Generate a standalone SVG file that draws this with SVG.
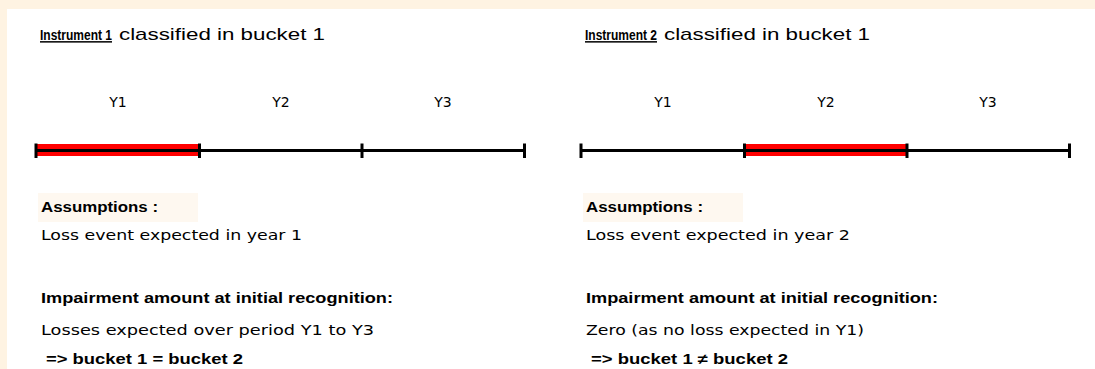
<svg xmlns="http://www.w3.org/2000/svg" width="1095" height="369" viewBox="0 0 1095 369">
<style>
.title{font-family:"Liberation Sans",Arial,sans-serif;font-size:12px;font-weight:bold;fill:#000;text-decoration:underline}
.sub{font-family:"Liberation Sans",Arial,sans-serif;font-size:17px;fill:#000}
.yl{font-family:"DejaVu Sans",sans-serif;font-size:14px;fill:#000;text-anchor:middle}
.body{font-family:"DejaVu Sans",sans-serif;font-size:14px;fill:#000}
.head{font-family:"Liberation Sans",Arial,sans-serif;font-size:14.5px;font-weight:bold;fill:#000}
.axis{stroke:#000;stroke-width:3;fill:none}
.tick{stroke:#000;stroke-width:3}
.hl{fill:#ff0000}
.hbg{fill:#fef8f0}
</style>
<rect x="0" y="0" width="1095" height="369" fill="#fef3e2"/>
<rect x="7" y="9" width="1088" height="360" fill="#ffffff"/>

<g id="panel1">
  <g transform="translate(40,40) scale(1,1.25)">
    <text class="title" x="0" y="0" textLength="72" lengthAdjust="spacingAndGlyphs">Instrument 1</text>
  </g>
  <text class="sub" x="119" y="40" textLength="206" lengthAdjust="spacingAndGlyphs">classified in bucket 1</text>
  <text class="yl" x="118" y="107">Y1</text>
  <text class="yl" x="281" y="107">Y2</text>
  <text class="yl" x="443" y="107">Y3</text>
  <g id="timeline1">
    <rect class="hl" x="37" y="144" width="162" height="12"/>
    <line class="axis" x1="36" y1="150.5" x2="524.5" y2="150.5"/>
    <line class="tick" x1="36" y1="143.5" x2="36" y2="158"/>
    <line class="tick" x1="199.5" y1="143.5" x2="199.5" y2="158"/>
    <line class="tick" x1="362" y1="143.5" x2="362" y2="158"/>
    <line class="tick" x1="524.5" y1="143.5" x2="524.5" y2="158"/>
  </g>
  <rect class="hbg" x="38" y="193" width="160" height="29"/>
  <text class="head" x="41" y="212" textLength="117" lengthAdjust="spacingAndGlyphs">Assumptions :</text>
  <text class="body" x="41" y="240" textLength="261" lengthAdjust="spacingAndGlyphs">Loss event expected in year 1</text>
  <text class="head" x="41" y="303" textLength="352" lengthAdjust="spacingAndGlyphs">Impairment amount at initial recognition:</text>
  <text class="body" x="41" y="335" textLength="333" lengthAdjust="spacingAndGlyphs">Losses expected over period Y1 to Y3</text>
  <text class="head" x="46" y="364" textLength="197" lengthAdjust="spacingAndGlyphs">=&gt; bucket 1 = bucket 2</text>
</g>

<g id="panel2">
  <g transform="translate(585,40) scale(1,1.25)">
    <text class="title" x="0" y="0" textLength="72" lengthAdjust="spacingAndGlyphs">Instrument 2</text>
  </g>
  <text class="sub" x="664" y="40" textLength="206" lengthAdjust="spacingAndGlyphs">classified in bucket 1</text>
  <text class="yl" x="663" y="107">Y1</text>
  <text class="yl" x="826" y="107">Y2</text>
  <text class="yl" x="988" y="107">Y3</text>
  <g id="timeline2">
    <rect class="hl" x="745" y="144" width="162" height="12"/>
    <line class="axis" x1="581" y1="150.5" x2="1069.5" y2="150.5"/>
    <line class="tick" x1="581" y1="143.5" x2="581" y2="158"/>
    <line class="tick" x1="744.5" y1="143.5" x2="744.5" y2="158"/>
    <line class="tick" x1="907" y1="143.5" x2="907" y2="158"/>
    <line class="tick" x1="1069.5" y1="143.5" x2="1069.5" y2="158"/>
  </g>
  <rect class="hbg" x="583" y="193" width="160" height="29"/>
  <text class="head" x="586" y="212" textLength="117" lengthAdjust="spacingAndGlyphs">Assumptions :</text>
  <text class="body" x="586" y="240" textLength="264" lengthAdjust="spacingAndGlyphs">Loss event expected in year 2</text>
  <text class="head" x="586" y="303" textLength="352" lengthAdjust="spacingAndGlyphs">Impairment amount at initial recognition:</text>
  <text class="body" x="586" y="335" textLength="278" lengthAdjust="spacingAndGlyphs">Zero (as no loss expected in Y1)</text>
  <text class="head" x="591" y="364" textLength="197" lengthAdjust="spacingAndGlyphs">=&gt; bucket 1 ≠ bucket 2</text>
</g>
</svg>
